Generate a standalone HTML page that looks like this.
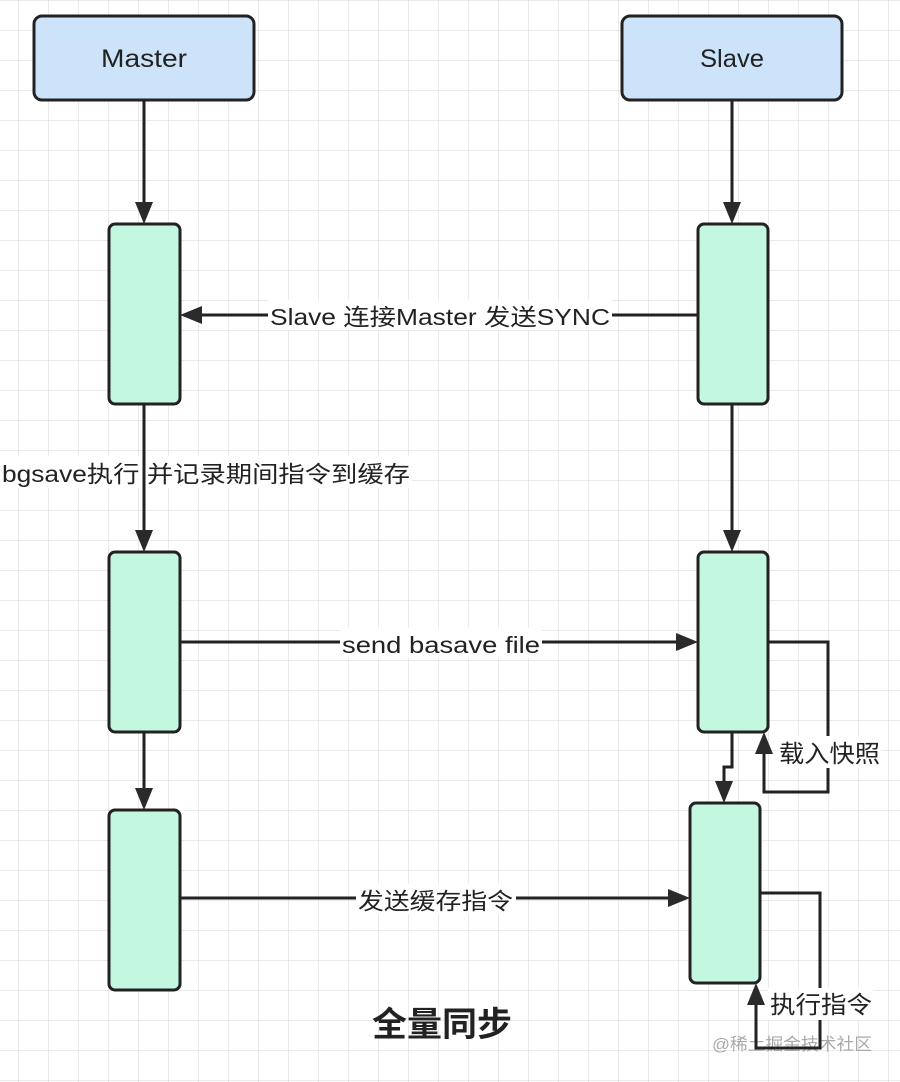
<!DOCTYPE html>
<html><head><meta charset="utf-8"><style>
html,body{margin:0;padding:0;background:#fff}
svg{display:block}
text{font-family:"Liberation Sans","Noto Sans CJK SC",sans-serif;fill:#222}
</style></head><body>
<svg width="900" height="1082" viewBox="0 0 900 1082" xmlns="http://www.w3.org/2000/svg">
<defs>
<pattern id="g" x="18" y="0" width="30" height="30" patternUnits="userSpaceOnUse">
<path d="M0 0V30M0 0H30" stroke="#dcdcdc" stroke-width="1.2" fill="none"/>
</pattern>
</defs>
<rect width="900" height="1082" fill="url(#g)"/>
<text x="712" y="1050" font-size="17" style="fill:#aaa" textLength="160" lengthAdjust="spacingAndGlyphs">@稀土掘金技术社区</text>
<g stroke="#222" stroke-width="3" fill="none">
<line x1="144" y1="100" x2="144" y2="204"/>
<line x1="144" y1="404" x2="144" y2="532"/>
<line x1="144" y1="732" x2="144" y2="790"/>
<line x1="732" y1="100" x2="732" y2="204"/>
<line x1="732" y1="404" x2="732" y2="532"/>
<polyline points="732,732 732,767 724,767 724,783"/>
<line x1="698" y1="315" x2="200" y2="315"/>
<line x1="180" y1="642" x2="678" y2="642"/>
<line x1="180" y1="898" x2="670" y2="898"/>
<polyline points="768,642 828,642 828,792 764,792 764,752"/>
<polyline points="760,893 820,893 820,1048 756,1048 756,1003"/>
</g>
<g fill="#2a2a2a">
<polygon points="135,202 153,202 144,224"/>
<polygon points="723,202 741,202 732,224"/>
<polygon points="135,530 153,530 144,552"/>
<polygon points="723,530 741,530 732,552"/>
<polygon points="135,788 153,788 144,810"/>
<polygon points="715,781 733,781 724,803"/>
<polygon points="202,306 202,324 180,315"/>
<polygon points="676,633 676,651 698,642"/>
<polygon points="668,889 668,907 690,898"/>
<polygon points="755,754 773,754 764,732"/>
<polygon points="747,1005 765,1005 756,983"/>
</g>
<rect x="34" y="16" width="220" height="84" rx="8" fill="#cce3fa" stroke="#222" stroke-width="3"/>
<rect x="622" y="16" width="220" height="84" rx="8" fill="#cce3fa" stroke="#222" stroke-width="3"/>
<text x="101" y="67" font-size="25" textLength="86" lengthAdjust="spacingAndGlyphs">Master</text>
<text x="700" y="67" font-size="25" textLength="64" lengthAdjust="spacingAndGlyphs">Slave</text>
<g fill="#c3f7e0" stroke="#222" stroke-width="3">
<rect x="109" y="224" width="71" height="180" rx="6"/>
<rect x="109" y="552" width="71" height="180" rx="6"/>
<rect x="109" y="810" width="71" height="180" rx="6"/>
<rect x="698" y="224" width="70" height="180" rx="6"/>
<rect x="698" y="552" width="70" height="180" rx="6"/>
<rect x="690" y="803" width="70" height="180" rx="6"/>
</g>
<rect x="268" y="300" width="344" height="30" fill="#fff"/>
<text x="270" y="325" font-size="23" textLength="340" lengthAdjust="spacingAndGlyphs">Slave 连接Master 发送SYNC</text>
<rect x="0" y="456" width="412" height="32" fill="#fff" opacity="0.9"/>
<line x1="144" y1="456" x2="144" y2="490" stroke="#222" stroke-width="3"/>
<text x="2" y="482" font-size="23" textLength="408" lengthAdjust="spacingAndGlyphs">bgsave执行 并记录期间指令到缓存</text>
<rect x="340" y="628" width="202" height="30" fill="#fff"/>
<text x="342" y="653" font-size="23" textLength="198" lengthAdjust="spacingAndGlyphs">send basave file</text>
<rect x="356" y="884" width="160" height="30" fill="#fff"/>
<text x="358" y="909" font-size="23" textLength="155" lengthAdjust="spacingAndGlyphs">发送缓存指令</text>
<rect x="776" y="736" width="106" height="32" fill="#fff"/>
<text x="779" y="762" font-size="24" textLength="101" lengthAdjust="spacingAndGlyphs">载入快照</text>
<rect x="768" y="988" width="106" height="32" fill="#fff"/>
<text x="770" y="1013" font-size="24" textLength="102" lengthAdjust="spacingAndGlyphs">执行指令</text>
<text x="372" y="1036" font-size="34" font-weight="bold" textLength="140" lengthAdjust="spacingAndGlyphs">全量同步</text>
</svg>
</body></html>
